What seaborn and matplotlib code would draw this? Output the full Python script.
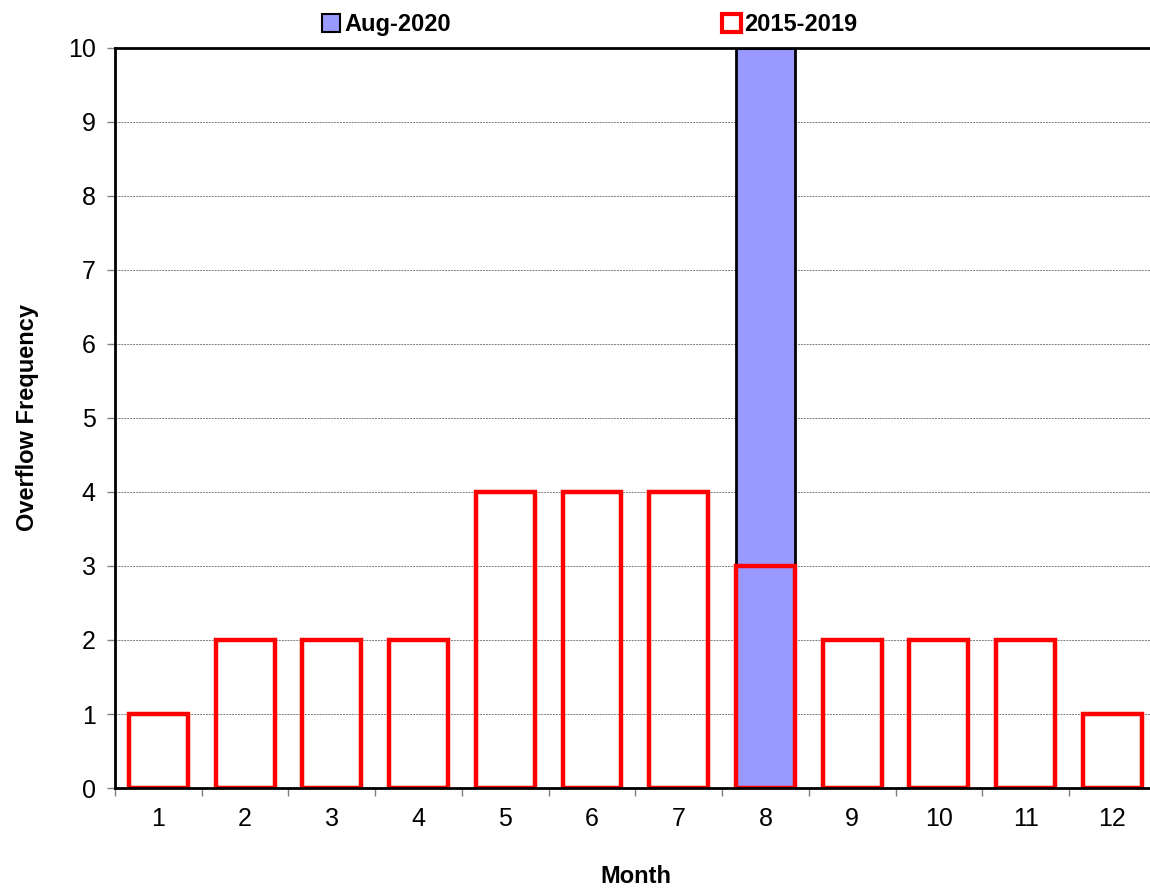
import numpy as np
import pandas as pd
import seaborn as sns
import matplotlib.pyplot as plt
from matplotlib.patches import Patch

months = [1, 2, 3, 4, 5, 6, 7, 8, 9, 10, 11, 12]
aug_2020 = [0, 0, 0, 0, 0, 0, 0, 10, 0, 0, 0, 0]
hist_2015_2019 = [1, 2, 2, 2, 4, 4, 4, 3, 2, 2, 2, 1]

sns.set_theme(style="white")
plt.rcParams["font.family"] = ["Liberation Sans", "DejaVu Sans"]
plt.rcParams["text.color"] = "black"
plt.rcParams["axes.labelcolor"] = "black"

df = pd.DataFrame({"Month": months, "Aug-2020": aug_2020, "2015-2019": hist_2015_2019})

fig = plt.figure(figsize=(11.5, 8.88), dpi=100)
ax = fig.add_axes([0.1, 0.1126, 0.905, 0.8334])

sns.barplot(data=df, x="Month", y="Aug-2020", color="#9999ff", saturation=1,
            width=0.68, edgecolor="black", linewidth=2, ax=ax)
sns.barplot(data=df, x="Month", y="2015-2019", fill=False, color="#ff0000",
            width=0.68, linewidth=3.2, ax=ax)
# hide the zero-height blue bars
for p in ax.patches[:len(months)]:
    if p.get_height() == 0:
        p.set_visible(False)

ax.set_ylim(0, 10)
ax.set_yticks(range(0, 11))
ax.yaxis.grid(True, color="gray", linestyle=(0, (2, 1)), linewidth=0.7)
ax.set_axisbelow(True)
for s in ax.spines.values():
    s.set_color("black")
    s.set_linewidth(2)
ax.tick_params(axis="both", labelsize=18, colors="black", length=6, width=1,
               direction="out", bottom=True, left=True)
ax.tick_params(axis="x", pad=14)
ax.tick_params(axis="y", pad=8)
ax.set_xticks(np.arange(-0.5, 12, 1), minor=True)
ax.tick_params(axis="x", which="major", length=0)
ax.tick_params(axis="x", which="minor", length=6, color="gray", bottom=True)
ax.tick_params(axis="y", color="gray")

ax.set_xlabel("Month", fontsize=17, fontweight="bold", labelpad=24)
ax.set_ylabel("Overflow Frequency", fontsize=17, fontweight="bold", labelpad=21)

handles = [Patch(facecolor="#9999ff", edgecolor="black", linewidth=1.5),
           Patch(facecolor="white", edgecolor="#ff0000", linewidth=3)]
ax.legend(handles, ["Aug-2020", "2015-2019"], loc="lower center",
          bbox_to_anchor=(0.456, 1.0), ncol=2, frameon=False,
          prop={"size": 17, "weight": "bold"}, columnspacing=11.5,
          handlelength=0.8, handleheight=0.8, handletextpad=0.15, borderaxespad=0.1)

fig.savefig("out.png", dpi=100)
